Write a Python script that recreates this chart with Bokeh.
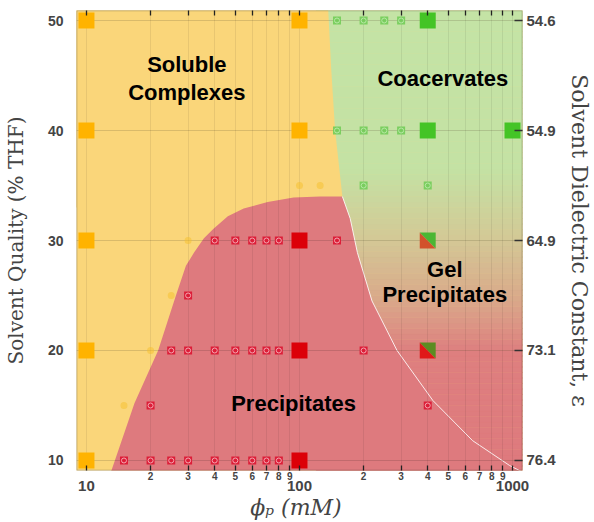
import numpy as np
from bokeh.plotting import figure
from bokeh.models import (Range1d, FixedTicker, LinearAxis, LogAxis, Grid,
                          BoxAnnotation)
from bokeh.core.properties import value
from bokeh.embed import file_html
from bokeh.resources import INLINE

# ---------------- data ----------------
x_decades = [10, 100, 1000]
x_decade_labels = ["10", "100", "1000"]
x_minor_digits = [2, 3, 4, 5, 6, 7, 8, 9]
y_ticks = [10, 20, 30, 40, 50]
y_right_labels = ["76.4", "73.1", "64.9", "54.9", "54.6"]

# soluble complexes (orange)
sol_big_x = [10, 10, 10, 10, 10, 100, 100]
sol_big_y = [50, 40, 30, 20, 10, 50, 40]
sol_small_x = [15, 20, 25, 30, 100, 125]
sol_small_y = [15, 20, 25, 30, 35, 35]
# precipitates (red)
prec_big_x = [100, 100, 100]
prec_big_y = [30, 20, 10]
prec_small_x = [40, 50, 60, 70, 80, 150,
                30,
                25, 30, 40, 50, 60, 70, 80, 200,
                20, 400,
                15, 20, 25, 30, 40, 50, 60, 70, 80]
prec_small_y = [30] * 6 + [25] + [20] * 8 + [15] * 2 + [10] * 9
# coacervates (green)
coac_big_x = [400, 400, 1000]
coac_big_y = [50, 40, 40]
coac_small_x = [150, 200, 250, 300, 150, 200, 250, 300, 200, 400]
coac_small_y = [50] * 4 + [40] * 4 + [35] * 2
# gel precipitates (split red / green)
gel_x = [400, 400]
gel_y = [30, 20]
gel_low_colors = ["#d2522c", "#e01818"]
gel_up_colors = ["#4cb634", "#5c8c22"]

# region boundaries
sol_coac_bx = [136, 141, 147, 159]
sol_coac_by = [51.5, 45.5, 40.0, 34.0]
prec_top_x = [12.4, 13.1, 16.8, 21.7, 26.3, 29.3, 32.0, 35.6, 39.6, 46.1, 54.7, 70.9, 93.8, 125, 159]
prec_top_y = [8.5, 9.1, 15.2, 20.0, 25.0, 27.7, 28.9, 30.2, 31.1, 32.2, 32.9, 33.5, 33.9, 34.0, 34.0]
gel_bx = [159, 173, 187, 219, 287, 423, 650, 968, 1100, 1250]
gel_by = [34.0, 32.0, 28.9, 24.5, 20.0, 15.45, 11.8, 9.55, 9.0, 8.6]

# region labels
label_text = ["Soluble", "Complexes", "Coacervates", "Gel", "Precipitates", "Precipitates"]
label_x = [29.6, 29.6, 471, 481, 481, 93.8]
label_y = [46.0, 43.5, 44.7, 27.4, 25.1, 15.2]

# gradient stops for the coacervate / gel zone (y, r, g, b)
grad_y = [9, 20, 24.5, 30, 36.5, 52]
grad_r = [222, 222, 218, 212, 196, 196]
grad_g = [122, 128, 168, 200, 226, 228]
grad_b = [126, 128, 138, 150, 164, 166]

YELLOW = "#fad67a"
RED_REGION = "#de7a7e"

# ---------------- figure ----------------
p = figure(width=594, height=522, x_axis_type="log",
           x_range=Range1d(8.98, 1114), y_range=Range1d(9.09, 50.91),
           output_backend="svg", toolbar_location=None,
           x_axis_location=None, y_axis_location=None,
           min_border_left=75, min_border_right=71,
           min_border_top=10, min_border_bottom=52)
p.background_fill_color = YELLOW
p.border_fill_color = "white"
p.outline_line_color = None
for g in list(p.center):
    g.visible = False

x_all_ticks = []
for d in [10, 100]:
    x_all_ticks.append(d)
    x_all_ticks += [m * d for m in x_minor_digits]
x_all_ticks.append(1000)

# gradient bands
band_edges = np.arange(8.5, 52.0, 0.5)
bot = band_edges[:-1]
top = band_edges[1:]
mid = (bot + top) / 2
cols = ["#%02x%02x%02x" % (int(np.interp(m, grad_y, grad_r)),
                           int(np.interp(m, grad_y, grad_g)),
                           int(np.interp(m, grad_y, grad_b))) for m in mid]
p.quad(left=120, right=1300, bottom=bot, top=top, fill_color=cols,
       line_color=cols, line_width=0.5, level="image")

# yellow cover left of soluble/coacervate boundary
p.patch([8] + sol_coac_bx + [sol_coac_bx[-1], 8],
        [sol_coac_by[0]] + sol_coac_by + [33.0, 33.0],
        fill_color=YELLOW, line_color=None, level="image")

# precipitates region
p.patch(prec_top_x + gel_bx[1:] + [1300, 12.4],
        prec_top_y + gel_by[1:] + [8.5, 8.5],
        fill_color=RED_REGION, line_color=None, level="image")
p.line(gel_bx, gel_by, line_color="white", line_width=1, line_alpha=0.85, level="image")

# grids
vg = Grid(dimension=0, ticker=FixedTicker(ticks=x_all_ticks), grid_line_color="black",
          grid_line_alpha=0.07, level="underlay")
hg = Grid(dimension=1, ticker=FixedTicker(ticks=y_ticks), grid_line_color="black",
          grid_line_alpha=0.13, level="underlay")
p.add_layout(vg)
p.add_layout(hg)

# markers
p.scatter(sol_small_x, sol_small_y, marker="circle", size=7, fill_color="#f6c02c",
          fill_alpha=0.5, line_color=None)
p.scatter(sol_big_x, sol_big_y, marker="square", size=16, fill_color="#ffb300",
          line_color=None)
p.scatter(prec_small_x, prec_small_y, marker="square", size=8, fill_color="#dc1e38",
          line_color=None)
p.scatter(prec_small_x, prec_small_y, marker="circle", size=5, fill_color=None,
          line_color="#f6a6b0", line_width=1)
p.scatter(prec_big_x, prec_big_y, marker="square", size=16, fill_color="#dc0008",
          line_color=None)
p.scatter(coac_small_x, coac_small_y, marker="square", size=8, fill_color="#72cc58",
          fill_alpha=0.9, line_color=None)
p.scatter(coac_small_x, coac_small_y, marker="circle", size=5, fill_color=None,
          line_color="#b6e8a4", line_width=1)
p.scatter(coac_big_x, coac_big_y, marker="square", size=16, fill_color="#44c426",
          line_color=None)

# split squares (half size 8 px -> data units)
fx = 10 ** (8 / 214.0)
hy = 8 / 11.0
low_xs, low_ys, up_xs, up_ys = [], [], [], []
for gx, gy in zip(gel_x, gel_y):
    l, r, b, t = gx / fx, gx * fx, gy - hy, gy + hy
    low_xs.append([l, l, r]); low_ys.append([b, t, b])
    up_xs.append([l, r, r]); up_ys.append([t, t, b])
p.patches(low_xs, low_ys, fill_color=gel_low_colors, line_color=None)
p.patches(up_xs, up_ys, fill_color=gel_up_colors, line_color=None)

# region labels
p.text(label_x, label_y, text=label_text, text_font=value("Liberation Sans"),
       text_font_style="bold", text_font_size="22px", text_align="center",
       text_baseline="middle", text_color="black")

# frame outline on top
p.add_layout(BoxAnnotation(fill_color=None, fill_alpha=0, line_color="#1a1a1a",
                           line_width=1.6, level="overlay"))

# ---------------- axes ----------------
TICK_FONT = "Liberation Sans"
LABEL_FONT = "DejaVu Serif"

left = LinearAxis(ticker=FixedTicker(ticks=y_ticks),
                  axis_label="Solvent Quality (% THF)")
left.axis_line_color = None
left.major_tick_line_color = None
left.minor_tick_line_color = None
left.major_label_standoff = 7
left.major_label_text_font = TICK_FONT
left.major_label_text_font_style = "bold"
left.major_label_text_font_size = "14px"
left.axis_label_text_font = LABEL_FONT
left.axis_label_text_font_style = "normal"
left.axis_label_text_font_size = "20px"
left.axis_label_standoff = 17
p.add_layout(left, "left")

right = LinearAxis(ticker=FixedTicker(ticks=y_ticks),
                   axis_label="Solvent Dielectric Constant, ε",
                   major_label_overrides={t: s for t, s in zip(y_ticks, y_right_labels)})
right.axis_line_color = None
right.major_tick_in = 8
right.major_tick_out = 0
right.major_tick_line_color = "#333333"
right.major_tick_line_width = 1.5
right.minor_tick_line_color = None
right.major_label_standoff = 4
right.major_label_text_font = TICK_FONT
right.major_label_text_font_style = "bold"
right.major_label_text_font_size = "15px"
right.axis_label_text_font = LABEL_FONT
right.axis_label_text_font_style = "normal"
right.axis_label_text_font_size = "22px"
right.axis_label_standoff = 8
p.add_layout(right, "right")

minor_over = {}
for d in [10, 100]:
    minor_over[d] = ""
    for m in x_minor_digits:
        minor_over[m * d] = str(m)
minor_over[1000] = ""
bottom1 = LogAxis(ticker=FixedTicker(ticks=x_all_ticks), major_label_overrides=minor_over)
bottom1.axis_line_color = None
bottom1.major_tick_in = 5
bottom1.major_tick_out = 0
bottom1.major_tick_line_color = "#222222"
bottom1.major_tick_line_width = 1.3
bottom1.minor_tick_line_color = None
bottom1.major_label_standoff = 1
bottom1.major_label_text_font = TICK_FONT
bottom1.major_label_text_font_style = "bold"
bottom1.major_label_text_font_size = "10px"
p.add_layout(bottom1, "below")

bottom2 = LogAxis(ticker=FixedTicker(ticks=x_decades),
                  major_label_overrides={t: s for t, s in zip(x_decades, x_decade_labels)},
                  axis_label="ϕₚ  (mM)")
bottom2.axis_line_color = None
bottom2.major_tick_line_color = None
bottom2.minor_tick_line_color = None
bottom2.major_label_standoff = -8
bottom2.major_label_text_font = TICK_FONT
bottom2.major_label_text_font_style = "bold"
bottom2.major_label_text_font_size = "15px"
bottom2.axis_label_text_font = LABEL_FONT
bottom2.axis_label_text_font_style = "italic"
bottom2.axis_label_text_font_size = "22px"
bottom2.axis_label_standoff = 1
p.add_layout(bottom2, "below")

top_ax = LogAxis(ticker=FixedTicker(ticks=x_all_ticks))
top_ax.axis_line_color = None
top_ax.major_tick_in = 5
top_ax.major_tick_out = 0
top_ax.major_tick_line_color = "#222222"
top_ax.major_tick_line_width = 1.3
top_ax.minor_tick_line_color = None
top_ax.major_label_standoff = 0
top_ax.major_label_text_font_size = "0px"
top_ax.major_label_text_color = None
p.add_layout(top_ax, "above")

open("out.html", "w").write(file_html(p, INLINE))
